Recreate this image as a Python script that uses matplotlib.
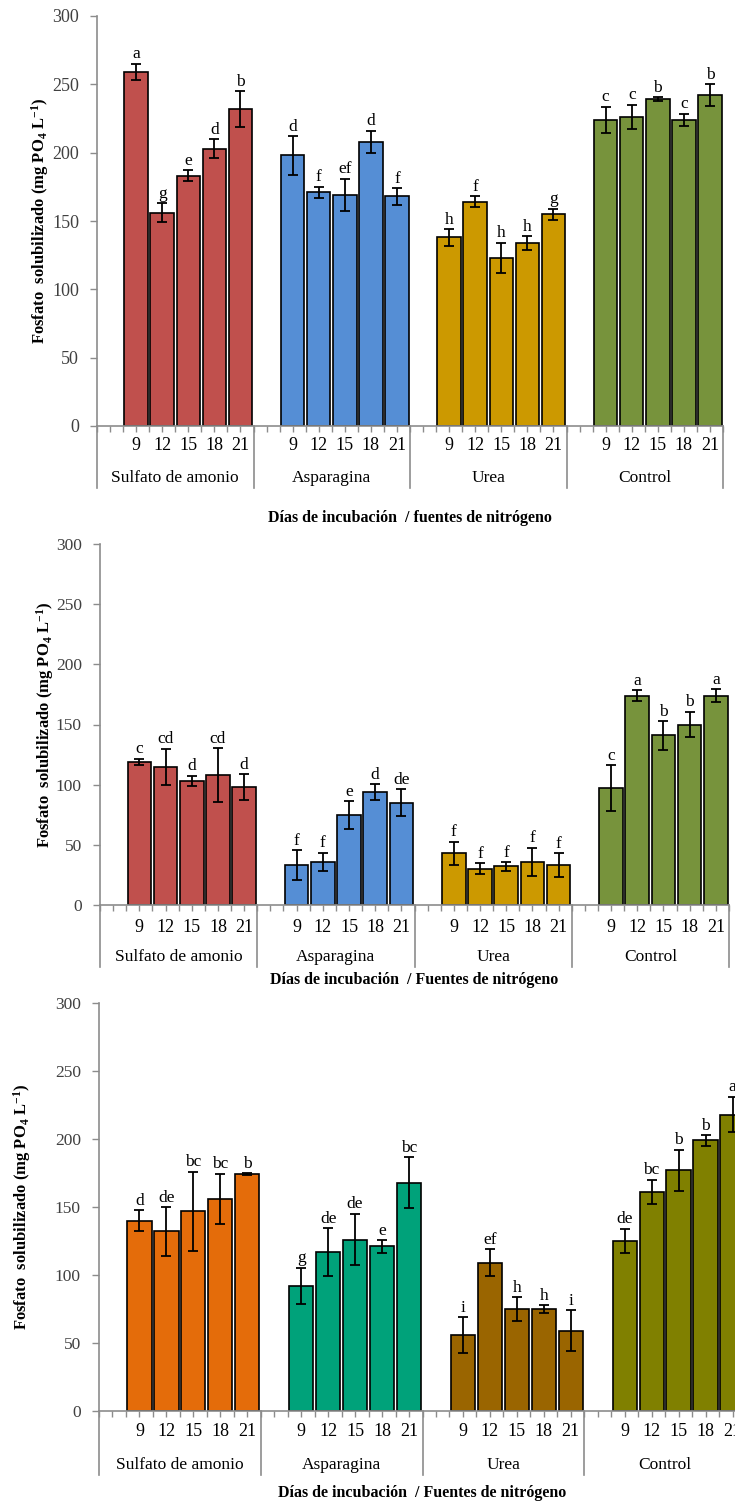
import numpy as np
import matplotlib
matplotlib.use("Agg")
import matplotlib.pyplot as plt
import matplotlib.transforms as mtransforms

plt.rcParams['font.family'] = ['Liberation Serif', 'DejaVu Serif']
plt.rcParams['mathtext.fontset'] = 'custom'
plt.rcParams['mathtext.rm'] = 'Liberation Serif'
plt.rcParams['mathtext.bf'] = 'Liberation Serif:bold'
plt.rcParams['mathtext.it'] = 'Liberation Serif:italic'

days = ['9', '12', '15', '18', '21']
groups = ['Sulfato de amonio', 'Asparagina', 'Urea', 'Control']

# panel 1
p1_mean = [[259, 156, 183, 203, 232],
           [198, 171, 169, 208, 168],
           [138, 164, 123, 134, 155],
           [224, 226, 239, 224, 242]]
p1_err = [[6, 7, 4, 7, 13],
          [14, 4, 12, 8, 6],
          [6, 4, 11, 5, 4],
          [9.5, 9, 1.5, 4.5, 8]]
p1_letters = [['a', 'g', 'e', 'd', 'b'],
              ['d', 'f', 'ef', 'd', 'f'],
              ['h', 'f', 'h', 'h', 'g'],
              ['c', 'c', 'b', 'c', 'b']]
p1_colors = ['#C0504D', '#558ED5', '#CC9900', '#77933C']

# panel 2
p2_mean = [[119, 115, 103, 108, 98],
           [33, 36, 75, 94, 85],
           [43, 30, 32, 36, 33],
           [97, 174, 141, 150, 174]]
p2_err = [[2.5, 15, 4.5, 22.5, 10.5],
          [12.5, 7.5, 11.5, 6.5, 11],
          [9.5, 4.5, 3.5, 11.5, 10],
          [19, 4.5, 12, 10.5, 5.5]]
p2_letters = [['c', 'cd', 'd', 'cd', 'd'],
              ['f', 'f', 'e', 'd', 'de'],
              ['f', 'f', 'f', 'f', 'f'],
              ['c', 'a', 'b', 'b', 'a']]
p2_colors = p1_colors

# panel 3
p3_mean = [[140, 132, 147, 156, 174],
           [92, 117, 126, 121, 168],
           [56, 109, 75, 75, 59],
           [125, 161, 177, 199, 218]]
p3_err = [[7.5, 18, 29, 18.5, 0.8],
          [13.5, 17.5, 19, 4.5, 18.5],
          [13, 10, 8.5, 3, 15],
          [9, 9, 15, 4, 13]]
p3_letters = [['d', 'de', 'bc', 'bc', 'b'],
              ['g', 'de', 'de', 'e', 'bc'],
              ['i', 'ef', 'h', 'h', 'i'],
              ['de', 'bc', 'b', 'b', 'a']]
p3_colors = ['#E46C0A', '#00A27A', '#9A6500', '#808000']

W, H = 735, 1506
fig = plt.figure(figsize=(W / 100, H / 100), dpi=100)

GRAY = '#8C8C8C'
ylabel = r'Fosfato  solubilizado (mg PO$_\mathbf{4}$ L$^\mathbf{-1}$)'


def draw_panel(left, right, y0, ytop, means, errs, letters, colors, xtitle,
               cat_off, grp_off, sep_off, title_off, ylab_x, tick_fs):
    ax = fig.add_axes([left / W, (H - y0) / H, (right - left) / W, (y0 - ytop) / H])
    hpx = y0 - ytop
    for g in range(4):
        xs = [6 * g + 1.5 + i for i in range(5)]
        ax.bar(xs, means[g], width=0.9, color=colors[g], edgecolor='black',
               linewidth=1.2, zorder=2)
        ax.errorbar(xs, means[g], yerr=errs[g], fmt='none', ecolor='black',
                    elinewidth=1.3, capsize=3.8, capthick=1.3, zorder=3)
        for x, m, e, lab in zip(xs, means[g], errs[g], letters[g]):
            ax.annotate(lab, (x, m + e), xytext=(0, 1), textcoords='offset points',
                        ha='center', va='bottom', fontsize=12.5, annotation_clip=False)
    ax.set_xlim(0, 24)
    ax.set_ylim(0, 300)
    ax.set_yticks(np.arange(0, 301, 50))
    ax.tick_params(axis='y', direction='out', length=5, color=GRAY, width=1,
                   labelsize=tick_fs, labelcolor='#404040', pad=8)
    ax.set_xticks([])
    ax.set_xticks(np.arange(0, 24.01, 0.5), minor=True)
    ax.tick_params(axis='x', which='minor', direction='out', length=4, color=GRAY, width=1)
    for s in ['top', 'right']:
        ax.spines[s].set_visible(False)
    for s in ['left', 'bottom']:
        ax.spines[s].set_color(GRAY)
        ax.spines[s].set_linewidth(1.2)

    trans = mtransforms.blended_transform_factory(ax.transData, ax.transAxes)
    for g in range(5):
        ax.plot([6 * g, 6 * g], [0, -sep_off / hpx], color=GRAY, lw=1.2,
                transform=trans, clip_on=False)
    for g in range(4):
        for i in range(5):
            ax.text(6 * g + 1.5 + i, -cat_off / hpx, days[i], transform=trans,
                    ha='center', va='center', fontsize=13)
        ax.text(6 * g + 3, -grp_off / hpx, groups[g], transform=trans,
                ha='center', va='center', fontsize=12.5)
    ax.text(12, -title_off / hpx, xtitle, transform=trans, ha='center', va='center',
            fontsize=11.5, fontweight='bold')
    fig.text(ylab_x / W, 1 - ((y0 + ytop) / 2) / H, ylabel, rotation=90,
             ha='center', va='center', fontsize=12, fontweight='bold')
    return ax


draw_panel(97, 723, 426, 16, p1_mean, p1_err, p1_letters, p1_colors,
           'Días de incubación  / fuentes de nitrógeno',
           20, 52, 62, 92, 40, 13)
draw_panel(100, 729, 905, 544, p2_mean, p2_err, p2_letters, p2_colors,
           'Días de incubación  / Fuentes de nitrógeno',
           22, 52, 62, 75, 45, 12.5)
draw_panel(99, 746, 1411, 1003, p3_mean, p3_err, p3_letters, p3_colors,
           'Días de incubación  / Fuentes de nitrógeno',
           21, 54, 64, 82, 22, 12.5)

fig.savefig('out.png', dpi=100)
